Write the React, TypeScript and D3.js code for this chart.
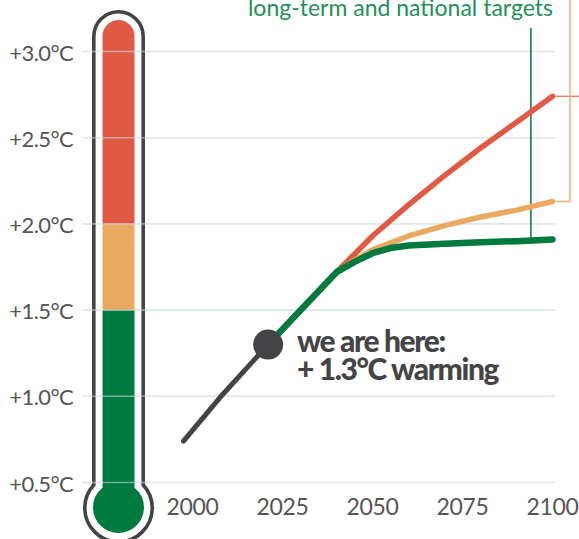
import React from "react";
import * as d3 from "d3";

// Axis ticks
const yearTicks = [2000, 2025, 2050, 2075, 2100];
const tempTicks = [0.5, 1.0, 1.5, 2.0, 2.5, 3.0];

// Observed warming up to today
const historyYears = [1997.5, 2007.5, 2021];
const historyTemps = [0.74, 0.99, 1.3];
const nowYear = 2021;
const nowTemp = 1.3;

// Projected pathways
const currentPolicyYears = [2021, 2040, 2050, 2060, 2070, 2080, 2090, 2100];
const currentPolicyTemps = [1.3, 1.72, 1.93, 2.11, 2.28, 2.44, 2.59, 2.74];

const pledgesYears = [2021, 2040, 2045, 2050, 2055, 2060, 2070, 2080, 2090, 2100];
const pledgesTemps = [1.3, 1.72, 1.79, 1.85, 1.89, 1.93, 1.99, 2.04, 2.08, 2.13];

const targetsYears = [2021, 2040, 2045, 2050, 2055, 2060, 2070, 2080, 2090, 2100];
const targetsTemps = [1.3, 1.72, 1.78, 1.83, 1.86, 1.875, 1.885, 1.893, 1.9, 1.91];

const targetsLabel = "long-term and national targets";
const targetsMarkerYear = 2094;

// Thermometer bands (upper bounds of each colour zone)
const bandLimits = [2.0, 1.5];

const RED = "#e05a43";
const ORANGE = "#eaa961";
const GREEN = "#017a3e";
const DARK = "#444446";
const GRID = "#c9d6e3";
const LABEL = "#555555";
const FONT = "Lato, 'Open Sans', sans-serif";

export default function App() {
  const width = 579;
  const height = 539;

  const x = d3.scaleLinear().domain([2000, 2100]).range([192.5, 552.5]);
  const y = d3.scaleLinear().domain([0.5, 3.0]).range([482.5, 51.5]);

  const line = d3
    .line<[number, number]>()
    .x((d) => x(d[0]))
    .y((d) => y(d[1]))
    .curve(d3.curveLinear);

  const zip = (a: number[], b: number[]) => a.map((v, i) => [v, b[i]] as [number, number]);

  const red = zip(currentPolicyYears, currentPolicyTemps);
  const orange = zip(pledgesYears, pledgesTemps);
  const green = zip(targetsYears, targetsTemps);
  const hist = zip(historyYears, historyTemps);

  const greenAt = (yr: number) => {
    const i = d3.bisectLeft(targetsYears, yr);
    const x0 = targetsYears[i - 1], x1 = targetsYears[i];
    const t = (yr - x0) / (x1 - x0);
    return targetsTemps[i - 1] + t * (targetsTemps[i] - targetsTemps[i - 1]);
  };

  // Thermometer geometry
  const cx = 118.5;
  const tubeHalf = 24.7;
  const tubeTop = 36.4;
  const bulbCy = 508;
  const bulbR = 33.75;
  const neckY = bulbCy - Math.sqrt(bulbR * bulbR - tubeHalf * tubeHalf);
  const outline = `M ${cx - tubeHalf} ${neckY} L ${cx - tubeHalf} ${tubeTop} A ${tubeHalf} ${tubeHalf} 0 0 1 ${cx + tubeHalf} ${tubeTop} L ${cx + tubeHalf} ${neckY} A ${bulbR} ${bulbR} 0 1 1 ${cx - tubeHalf} ${neckY} Z`;
  const innerHalf = 16;
  const innerTop = 20;

  const gridX0 = 82;
  const gridX1 = 555;

  const redEnd = red[red.length - 1];
  const orangeEnd = orange[orange.length - 1];
  const bracketX = 570;

  return (
    <svg
      width={width}
      height={height}
      style={{ position: "absolute", left: 0, top: 0, background: "#fff" }}
      fontFamily={FONT}
    >
      <defs>
        <clipPath id="tube">
          <rect x={cx - innerHalf} y={innerTop} width={innerHalf * 2} height={bulbCy - innerTop} rx={innerHalf} />
          <circle cx={cx} cy={bulbCy - 0.5} r={25.5} />
        </clipPath>
      </defs>

      {/* thermometer */}
      <path d={outline} fill="#fff" stroke={DARK} strokeWidth={3.6} />
      <g clipPath="url(#tube)">
        <rect x={cx - 30} y={0} width={60} height={y(bandLimits[0])} fill={RED} />
        <rect x={cx - 30} y={y(bandLimits[0])} width={60} height={y(bandLimits[1]) - y(bandLimits[0])} fill={ORANGE} />
        <rect x={cx - 30} y={y(bandLimits[1])} width={60} height={height - y(bandLimits[1])} fill={GREEN} />
      </g>

      {/* gridlines */}
      {tempTicks.map((t) => (
        <line key={t} x1={gridX0} x2={gridX1} y1={y(t)} y2={y(t)} stroke={GRID} strokeWidth={1.6} opacity={0.6} />
      ))}

      {/* y labels */}
      {tempTicks.map((t) => (
        <text key={t} x={73} y={y(t) + 9} textAnchor="end" fontSize={22} fill={LABEL} letterSpacing={-0.6}>
          {`+${t.toFixed(1)}°C`}
        </text>
      ))}

      {/* x labels */}
      {yearTicks.map((yr) => (
        <text key={yr} x={x(yr)} y={515} textAnchor="middle" fontSize={23} fill={LABEL} letterSpacing={-0.3}>
          {yr}
        </text>
      ))}

      {/* annotation connectors */}
      <line x1={x(2100) + 3} x2={width} y1={y(redEnd[1])} y2={y(redEnd[1])} stroke="#ea8070" strokeWidth={1.5} />
      <path
        d={`M ${bracketX} -2 L ${bracketX} ${y(orangeEnd[1])} L ${x(2100) + 3} ${y(orangeEnd[1])}`}
        fill="none"
        stroke="#f0b271"
        strokeWidth={1.5}
      />
      <line
        x1={x(targetsMarkerYear)}
        x2={x(targetsMarkerYear)}
        y1={28}
        y2={y(greenAt(targetsMarkerYear))}
        stroke={GREEN}
        strokeWidth={1.5}
      />
      <text x={553} y={16} textAnchor="end" fontSize={23} fill="#23905a">
        {targetsLabel}
      </text>

      {/* pathways */}
      <path d={line(red) || ""} fill="none" stroke={RED} strokeWidth={5.5} strokeLinecap="round" strokeLinejoin="round" />
      <path d={line(orange) || ""} fill="none" stroke={ORANGE} strokeWidth={5.5} strokeLinecap="round" strokeLinejoin="round" />
      <path d={line(green) || ""} fill="none" stroke={GREEN} strokeWidth={6.5} strokeLinecap="round" strokeLinejoin="round" />

      {/* history */}
      <path
        d={line(hist) || ""}
        fill="none"
        stroke={DARK}
        strokeWidth={5}
        strokeLinecap="round"
        strokeLinejoin="round"
      />
      <circle cx={x(nowYear)} cy={y(nowTemp)} r={15} fill={DARK} />

      <text fontSize={30} fontWeight={900} fill={DARK} letterSpacing={-1.4}>
        <tspan x={297} y={352}>we are here:</tspan>
        <tspan x={297} y={380}>{`+ ${nowTemp.toFixed(1)}°C warming`}</tspan>
      </text>
    </svg>
  );
}
